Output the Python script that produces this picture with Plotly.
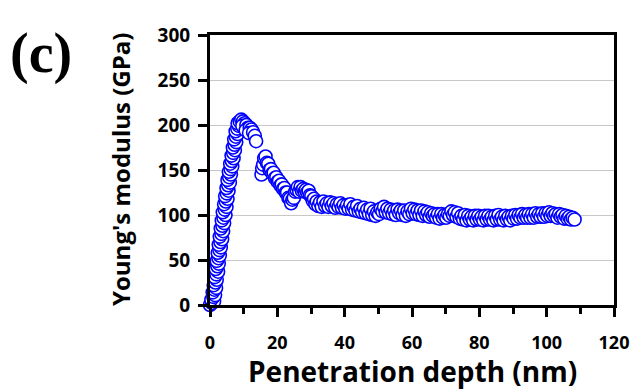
import plotly.graph_objects as go

# Penetration depth (nm) and Young's modulus (GPa)
depth_rise = [0.0, 0.6, 1.2, 0.4, 1.0, 1.5, 0.8, 1.3, 1.8, 1.1,
              1.6, 2.0, 1.4, 1.9, 2.4, 1.7, 2.2, 2.6, 2.0, 2.5,
              2.9, 2.3, 2.8, 3.2, 2.6, 3.1, 3.6, 2.9, 3.4, 3.9,
              3.2, 3.7, 4.2, 3.5, 4.0, 4.6, 3.8, 4.4, 4.9, 4.2,
              4.7, 5.2, 4.5, 5.0, 5.5, 4.9, 5.4, 5.9, 5.2, 5.7,
              6.2, 5.6, 6.1, 6.6, 6.0, 6.5, 7.0, 6.4, 6.9, 7.4,
              6.8, 7.3, 7.8, 7.2, 7.7, 8.2, 7.6, 8.1, 8.6, 8.2,
              8.8, 9.3, 9.8, 10.3, 9.6, 10.8, 11.3, 10.6, 11.8, 12.3,
              11.6, 12.8, 13.3, 13.7]
modulus_rise = [0, 2, 4, 6, 9, 11, 14, 17, 19, 22,
                25, 28, 31, 34, 37, 40, 43, 46, 49, 52,
                55, 58, 61, 64, 67, 70, 73, 76, 79, 82,
                85, 88, 91, 94, 97, 100, 103, 106, 109, 112,
                115, 118, 121, 124, 127, 130, 133, 136, 139, 142,
                145, 148, 151, 154, 157, 160, 163, 166, 169, 172,
                175, 178, 181, 184, 187, 190, 193, 196, 199, 202,
                204, 206, 204, 202, 199, 200, 197, 194, 197, 195,
                191, 192, 188, 182]

depth_tail = [15.3, 15.5, 15.8, 16.1, 16.5, 16.9, 17.3, 17.7, 18.1, 18.5, 18.9, 19.3, 19.7, 20.1, 20.5, 20.9,
              21.3, 21.7, 22.1, 22.5, 22.9, 23.3, 23.7, 24.1, 24.5, 24.9, 25.3, 25.7, 26.1, 26.5, 26.9, 27.3,
              27.7, 28.1, 28.5, 28.9, 29.3, 29.7, 30.1, 30.5, 30.9, 31.3, 31.7, 32.2, 32.7, 33.2, 33.7, 34.2,
              34.7, 35.2, 35.7, 36.2, 36.7, 37.2, 37.7, 38.2, 38.7, 39.2, 39.7, 40.2, 40.7, 41.2, 41.7, 42.2,
              42.7, 43.2, 43.7, 44.2, 44.7, 45.2, 45.7, 46.2, 46.7, 47.2, 47.7, 48.2, 48.7, 49.2, 49.7, 50.2,
              50.7, 51.2, 51.7, 52.2, 52.7, 53.2, 53.7, 54.2, 54.7, 55.2, 55.7, 56.2, 56.7, 57.2, 57.7, 58.2,
              58.7, 59.2, 59.7, 60.2, 60.7, 61.2, 61.7, 62.2, 62.7, 63.2, 63.7, 64.2, 64.7, 65.2, 65.7, 66.2,
              66.7, 67.2, 67.7, 68.2, 68.7, 69.2, 69.7, 70.2, 70.7, 71.2, 71.7, 72.2, 72.7, 73.2, 73.7, 74.2,
              74.7, 75.2, 75.7, 76.2, 76.7, 77.2, 77.7, 78.2, 78.7, 79.2, 79.7, 80.2, 80.7, 81.2, 81.7, 82.2,
              82.7, 83.2, 83.7, 84.2, 84.7, 85.2, 85.7, 86.2, 86.7, 87.2, 87.7, 88.2, 88.7, 89.2, 89.7, 90.2,
              90.7, 91.2, 91.7, 92.2, 92.7, 93.2, 93.7, 94.2, 94.7, 95.2, 95.7, 96.2, 96.7, 97.2, 97.7, 98.2,
              98.7, 99.2, 99.7, 100.2, 100.7, 101.2, 101.7, 102.2, 102.7, 103.2, 103.7, 104.2, 104.7, 105.2,
              105.7, 106.2, 106.7, 107.2, 107.7, 108.3]
modulus_tail = [145, 152, 156, 163, 165, 158, 157, 150, 151, 146, 147, 141, 142, 137, 138, 133,
                134, 129, 130, 125, 125, 119, 118, 113, 117, 119, 126, 128, 131, 126, 131, 127,
                129, 126, 128, 125, 127, 122, 121, 116, 118, 112, 115, 110, 114, 109, 115, 110,
                113, 109, 114, 110, 113, 108, 112, 109, 113, 108, 111, 107, 111, 107, 112, 106,
                109, 105, 110, 104, 107, 103, 108, 102, 106, 101, 107, 100, 104, 99, 103, 101,
                107, 104, 109, 103, 107, 102, 106, 101, 105, 100, 106, 102, 105, 100, 105, 99,
                104, 101, 107, 102, 106, 101, 105, 100, 105, 99, 104, 100, 103, 98, 102, 99,
                101, 97, 101, 96, 101, 97, 100, 97, 101, 99, 104, 100, 103, 98, 102, 96,
                99, 95, 100, 94, 99, 95, 98, 94, 99, 95, 99, 95, 98, 94, 99, 95,
                99, 95, 98, 94, 99, 95, 100, 95, 98, 94, 99, 95, 98, 94, 99, 96,
                100, 96, 100, 97, 101, 97, 100, 97, 101, 97, 101, 97, 102, 98, 101, 98,
                102, 98, 102, 99, 103, 99, 102, 99, 101, 97, 101, 98, 100, 96,
                99, 96, 98, 95, 97, 95]

depth = depth_rise + depth_tail
modulus = modulus_rise + modulus_tail

x_ticks = [0, 20, 40, 60, 80, 100, 120]
y_ticks = [0, 50, 100, 150, 200, 250, 300]

FONT = "Open Sans"

fig = go.Figure()
fig.add_trace(go.Scatter(
    x=depth, y=modulus, mode="markers", cliponaxis=False,
    marker=dict(symbol="circle", size=13, color="white",
                line=dict(color="#0000ff", width=1.6)),
    showlegend=False,
))

fig.update_layout(
    width=641, height=392,
    margin=dict(l=210, r=18, t=35, b=87),
    paper_bgcolor="white", plot_bgcolor="white",
    font=dict(family=FONT, color="black"),
    xaxis=dict(
        range=[0, 120], tickvals=x_ticks, ticktext=[str(v) for v in x_ticks],
        ticks="outside", ticklen=9, tickwidth=2.5, tickcolor="black",
        minor=dict(dtick=10, ticks="outside", ticklen=6, tickwidth=2.5, tickcolor="black", showgrid=False),
        showline=True, linewidth=3, linecolor="black", mirror=True,
        showgrid=False, zeroline=False,
        tickfont=dict(family=FONT, size=18, color="black", weight="bold"),
        ticklabelstandoff=10,
    ),
    yaxis=dict(
        range=[0, 300], tickvals=y_ticks, ticktext=[str(v) for v in y_ticks],
        ticks="outside", ticklen=9, tickwidth=2.5, tickcolor="black",
        showline=True, linewidth=3, linecolor="black", mirror=True,
        showgrid=True, gridcolor="#c8c8c8", gridwidth=1, zeroline=False,
        tickfont=dict(family=FONT, size=19, color="black", weight="bold"),
        ticklabelstandoff=4,
    ),
    annotations=[
        dict(text="(c)", xref="paper", yref="paper", x=-0.5, y=1.055,
             xanchor="left", yanchor="top", showarrow=False,
             font=dict(family="Liberation Serif", size=56, color="black", weight="bold")),
        dict(text="Penetration depth (nm)", xref="paper", yref="paper", x=0.5, y=0,
             xanchor="center", yanchor="middle", yshift=-66, showarrow=False,
             font=dict(family=FONT, size=28, color="black", weight="bold")),
        dict(text="Young's modulus (GPa)", xref="paper", yref="paper", x=0, y=0.5,
             xanchor="center", yanchor="middle", xshift=-90, textangle=-90, showarrow=False,
             font=dict(family=FONT, size=24, color="black", weight="bold")),
    ],
)

fig.write_html("out.html")
